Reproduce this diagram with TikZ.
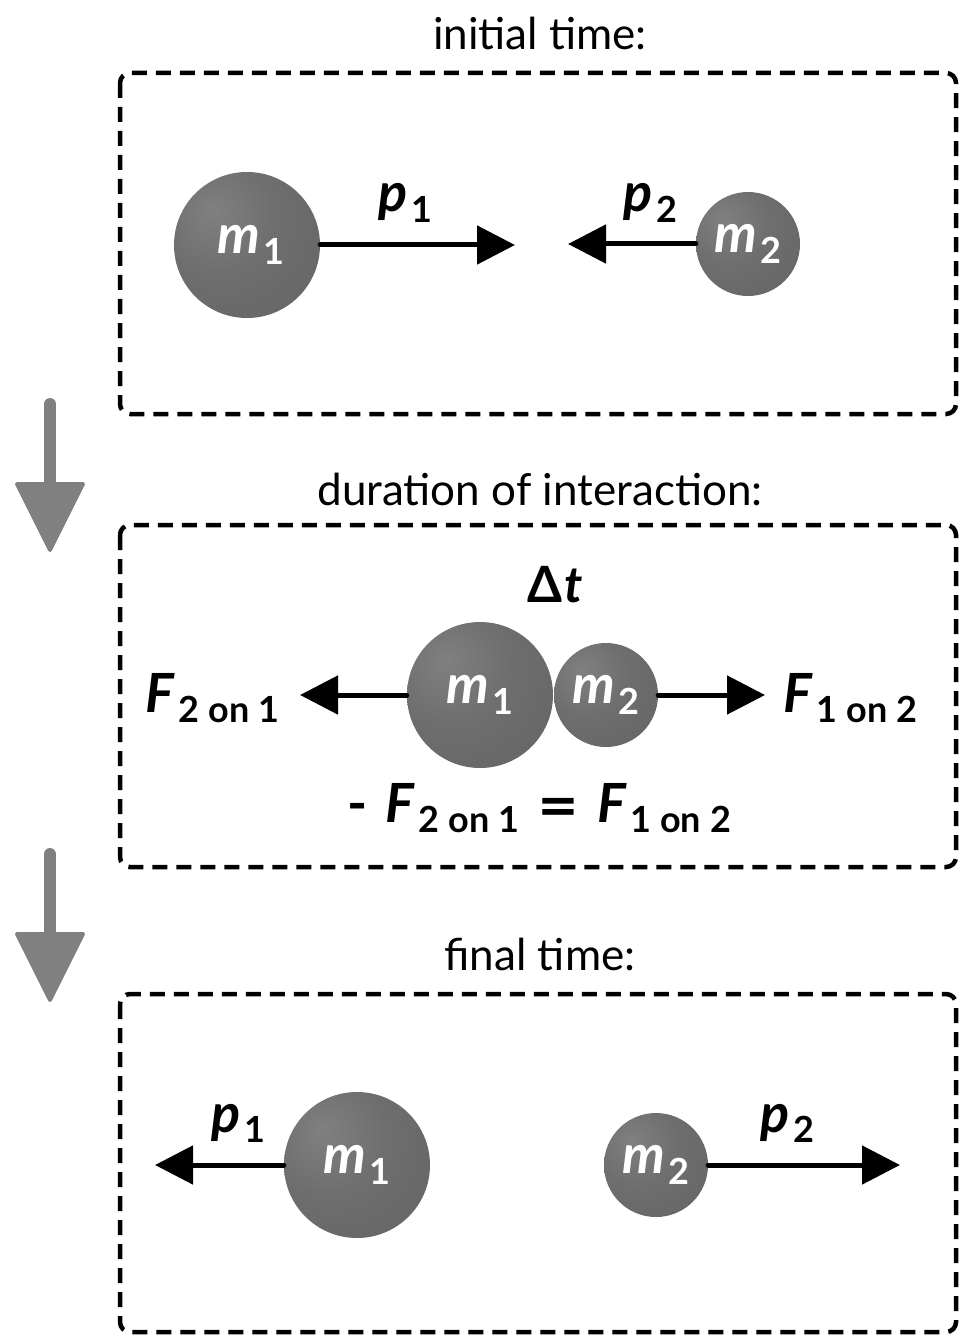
\documentclass[tikz,border=0pt]{standalone}
\usepackage{fontspec}
\setmainfont{Lato}
\newfontfamily\eqfont{DejaVu Sans}
\usetikzlibrary{arrows.meta}
\definecolor{sph1}{HTML}{808080}
\definecolor{sph2}{HTML}{6e6e6e}
\definecolor{sph3}{HTML}{636363}
\definecolor{sph4}{HTML}{4f4f4f}
\definecolor{garrow}{HTML}{808080}
\pgfdeclareradialshading{sphere}{\pgfpoint{-12bp}{12bp}}{color(0bp)=(sph1); color(20bp)=(sph2); color(48bp)=(sph3); color(62bp)=(sph4); color(100bp)=(sph4)}
\newcommand{\symb}[4]{\fontsize{#3}{#3}\selectfont\textbf{\textit{#1}}\kern4pt\raisebox{-0.4ex}{\fontsize{#4}{#4}\selectfont\textbf{#2}}}
\tikzset{
  dbox/.style={draw=black, line width=4.5pt, dash pattern=on 15pt off 9pt, rounded corners=10pt},
  bigball/.style={circle, minimum size=146pt, inner sep=0pt, shading=sphere, text=white},
  smallball/.style={circle, minimum size=104pt, inner sep=0pt, shading=sphere, text=white},
  parrow/.style={line width=5pt, line cap=round, -{Triangle[length=38pt,width=38pt]}},
  title/.style={font=\fontsize{44}{44}\selectfont, anchor=base},
  garr/.style={line width=12pt, line cap=round, draw=garrow},
  ghead/.style={fill=garrow, draw=garrow, line width=4pt, line join=round},
  lbl/.style={anchor=base west, inner sep=0pt}
}
\begin{document}
\begin{tikzpicture}[x=1pt,y=-1pt]
\useasboundingbox (0,0) rectangle (959,1337);
% titles
\node[title] (t1) at (540,50) {initial time:};
\node[title] (t2) at (540,505) {duration of interaction:};
\node[title] (t3) at (540,970) {final time:};
% boxes
\draw[dbox] (120,73) rectangle (956,414);
\draw[dbox] (120,525) rectangle (956,867);
\draw[dbox] (120,994) rectangle (956,1332);
% gray arrows
\draw[garr] (50,404) -- (50,488);
\draw[ghead] (17,484) -- (83,484) -- (50,550) -- cycle;
\draw[garr] (50,854) -- (50,938);
\draw[ghead] (17,934) -- (83,934) -- (50,1000) -- cycle;
% panel 1
\node[bigball] (m1a) at (247,245) {\kern8pt\symb{m}{1}{54}{36}};
\node[smallball] (m2a) at (748,244) {\symb{m}{2}{54}{36}};
\coordinate (p1tip) at (515,245);
\coordinate (p2tip) at (568,244);
\draw[parrow] (m1a.east) -- (p1tip);
\draw[parrow] (m2a.west) -- (p2tip);
\node[lbl] (p1a) at (378,212) {\symb{p}{1}{54}{36}};
\node[lbl] (p2a) at (623,212) {\symb{p}{2}{54}{36}};
% panel 2
\node[anchor=base, inner sep=0pt, font=\fontsize{50}{50}\selectfont\bfseries] (dt) at (555,602) {Δ\kern2pt\textit{t}};
\node[bigball] (m1b) at (480,695) {\symb{m}{1}{54}{36}};
\node[smallball] (m2b) at (606,695) {\symb{m}{2}{54}{36}};
\coordinate (f21tip) at (300,695);
\coordinate (f12tip) at (765,695);
\draw[parrow] (m1b.west) -- (f21tip);
\draw[parrow] (m2b.east) -- (f12tip);
\node[lbl] (f21) at (145,712) {\symb{F}{2 on 1}{54}{36}};
\node[lbl] (f12) at (783,712) {\symb{F}{1 on 2}{54}{36}};
\node[anchor=base, inner sep=0pt] (eq) at (539,822) {\fontsize{54}{54}\selectfont\textbf{-}\kern18pt\symb{F}{2 on 1}{54}{36}\kern18pt{\eqfont\fontsize{50}{50}\selectfont\bfseries =}\kern18pt\symb{F}{1 on 2}{54}{36}};
% panel 3
\node[bigball] (m1c) at (357,1165) {\symb{m}{1}{54}{36}};
\node[smallball] (m2c) at (656,1165) {\symb{m}{2}{54}{36}};
\coordinate (p1ctip) at (155,1165);
\coordinate (p2ctip) at (900,1165);
\draw[parrow] (m1c.west) -- (p1ctip);
\draw[parrow] (m2c.east) -- (p2ctip);
\node[lbl] (p1c) at (211,1132) {\symb{p}{1}{54}{36}};
\node[lbl] (p2c) at (760,1132) {\symb{p}{2}{54}{36}};
\end{tikzpicture}
\end{document}
